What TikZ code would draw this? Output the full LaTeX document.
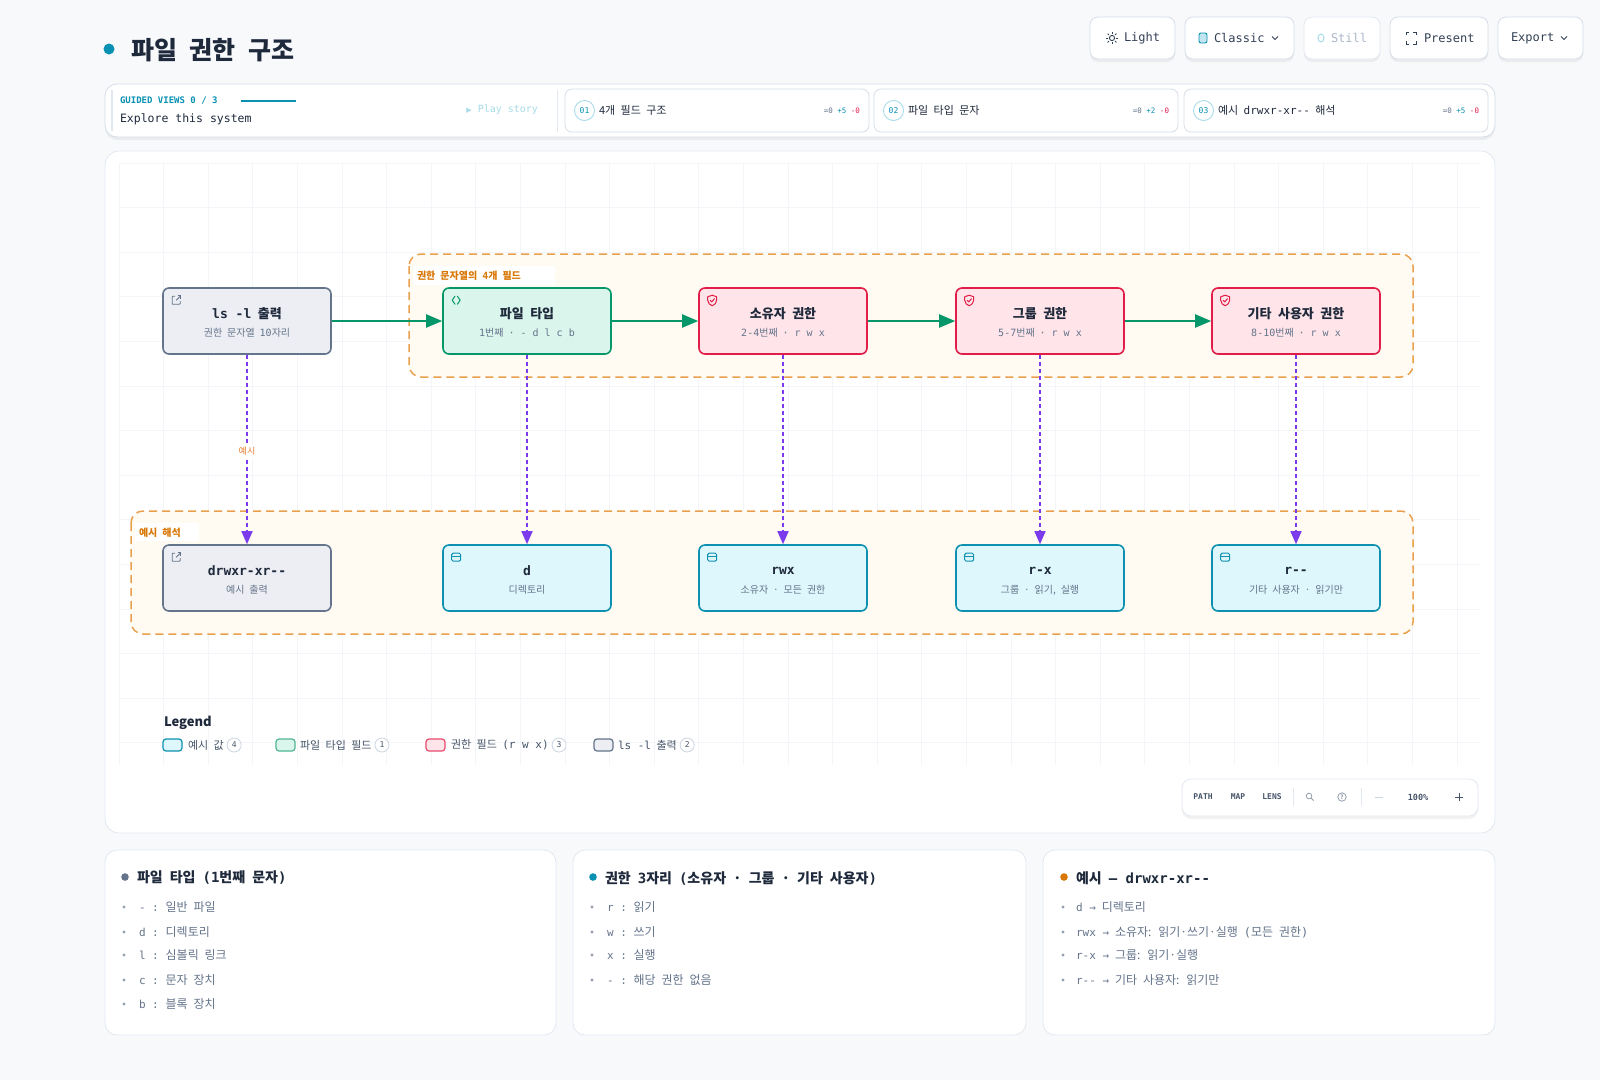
\documentclass[tikz,border=0pt]{standalone}
\usepackage{fontspec}
\setmainfont[WordSpace=2.2]{Noto Sans CJK KR}
\newfontfamily\mono{DejaVu Sans Mono}
\newfontfamily\djs{DejaVu Sans}
\usetikzlibrary{arrows.meta,calc}
\newcommand\mm[1]{{\mono #1}}
\newcommand\fsz[1]{\fontsize{#1}{#1}\selectfont}
\definecolor{pagebg}{HTML}{F8F9FB}
\definecolor{ink}{HTML}{1E293B}
\definecolor{ink2}{HTML}{334155}
\definecolor{muted}{HTML}{64748B}
\definecolor{muted2}{HTML}{475569}
\definecolor{line}{HTML}{E2E8F0}
\definecolor{line2}{HTML}{CBD5E1}
\definecolor{gridc}{HTML}{F3F5F8}
\definecolor{tealc}{HTML}{0891B2}
\definecolor{teall}{HTML}{A8DCE8}
\definecolor{slateB}{HTML}{64748B}
\definecolor{slateF}{HTML}{ECEEF3}
\definecolor{greenB}{HTML}{059669}
\definecolor{greenF}{HTML}{DAF5EB}
\definecolor{roseB}{HTML}{E11D48}
\definecolor{roseF}{HTML}{FFE4E9}
\definecolor{cyanB}{HTML}{0E91B0}
\definecolor{cyanF}{HTML}{DDF7FC}
\definecolor{purp}{HTML}{7C3AED}
\definecolor{orB}{HTML}{E9A04D}
\definecolor{orF}{HTML}{FFFBF2}
\definecolor{orT}{HTML}{D97706}
\definecolor{orL}{HTML}{EA7A2E}
\tikzset{
  txt/.style={inner sep=0pt, outer sep=0pt},
  shadowed/.style={preaction={fill=black, opacity=0.05, transform canvas={yshift=-3pt}}},
  card/.style={draw=line, fill=white, line width=0.8pt},
  btn/.style={draw=line2!80, fill=white, line width=0.8pt, rounded corners=8pt, shadowed},
  nbox/.style={draw, rounded corners=6pt, line width=1.6pt, minimum width=168pt, minimum height=66pt, inner sep=0pt},
  gnode/.style={nbox, draw=slateB, fill=slateF},
  fnode/.style={nbox, draw=greenB, fill=greenF},
  rnode/.style={nbox, draw=roseB, fill=roseF},
  cnode/.style={nbox, draw=cyanB, fill=cyanF},
  ttl/.style={txt, font=\fsz{13}\bfseries, text=ink},
  sub/.style={txt, font=\fsz{10}, text=muted},
  grp/.style={draw=orB, fill=orF, line width=1.5pt, dash pattern=on 8pt off 5pt, rounded corners=12pt},
  grplbl/.style={txt, font=\fsz{10}\bfseries, text=orT, anchor=west},
  garrow/.style={draw=greenB, line width=2pt, -{Triangle[length=16pt,width=13pt]}},
  parrow/.style={draw=purp, line width=1.5pt, dash pattern=on 4pt off 3pt, -{Triangle[length=13pt,width=11pt]}},
  legt/.style={txt, anchor=west, font=\fsz{11}, text=muted2},
  badge/.style={circle, draw=line2, fill=white, line width=0.8pt, minimum size=14pt, inner sep=0pt, font=\mono\fsz{8}, text=muted2, anchor=west},
  sw/.style={line width=1.2pt, rounded corners=3pt},
  itm/.style={txt, anchor=west, font=\fsz{12}, text=muted},
  hd/.style={txt, anchor=west, font=\fsz{14}\bfseries, text=ink},
  tb/.style={txt, font=\mono\bfseries\fsz{8}, text=muted2},
  extlink/.pic={\draw[line width=0.9pt, rounded corners=0.6pt] (-1,-4) -- (-4,-4) -- (-4,4) -- (4,4) -- (4,1);
    \draw[line width=0.9pt] (0,0) -- (4.5,-4.5);
    \draw[line width=0.9pt] (1.5,-4.5) -- (4.5,-4.5) -- (4.5,-1.5);},
  codeic/.pic={\draw[line width=1pt, line join=round, line cap=round] (-1.2,-4) -- (-4,0) -- (-1.2,4);
    \draw[line width=1pt, line join=round, line cap=round] (1.2,-4) -- (4,0) -- (1.2,4);},
  shieldic/.pic={\draw[line width=1pt, line join=round] (0,-5) -- (4.5,-3.4) -- (4.5,0) .. controls (4.5,3) and (2.2,4.6) .. (0,5.6) .. controls (-2.2,4.6) and (-4.5,3) .. (-4.5,0) -- (-4.5,-3.4) -- cycle;
    \draw[line width=1pt, line join=round, line cap=round] (-2,0.2) -- (-0.5,1.7) -- (2.2,-1.4);},
  winic/.pic={\draw[line width=1pt, rounded corners=1.5pt] (-4.5,-4) rectangle (4.5,4);
    \draw[line width=1pt] (-4.5,-0.8) -- (4.5,-0.8);},
}
\begin{document}
\begin{tikzpicture}[x=1pt, y=-1pt]
\useasboundingbox (0,0) rectangle (1600,1080);
\fill[pagebg] (0,0) rectangle (1600,1080);

% ---------- title ----------
\fill[tealc] (109,49) circle (5.5);
\node[txt, anchor=west, font=\fsz{25}\bfseries, text=ink] (title) at (131,50) {파일 권한 구조};

% ---------- buttons ----------
\draw[btn] (1090,17) rectangle (1175,59);
\draw[ink2, line width=0.9pt] (1112,38) circle (2.6);
\foreach \a in {0,45,...,315} \draw[ink2, line width=0.9pt] ($(1112,38)+(\a:4.4)$) -- ($(1112,38)+(\a:6.2)$);
\node[txt, anchor=west, font=\mono\fsz{12}, text=ink2] (bLight) at (1124,38) {Light};
\draw[btn] (1185,17) rectangle (1294,59);
\draw[tealc, fill=teall!70, line width=0.9pt, rounded corners=2pt] (1199,33) rectangle (1207,43);
\node[txt, anchor=west, font=\mono\fsz{12}, text=ink2] (bClassic) at (1214,38) {Classic};
\draw[ink2, line width=0.9pt] (1272,36.5) -- (1275,39.5) -- (1278,36.5);
\draw[btn, draw=line] (1304,17) rectangle (1380,59);
\draw[teall, line width=1pt] (1321,38) ellipse (3 and 4);
\node[txt, anchor=west, font=\mono\fsz{12}, text=line2!70!muted] (bStill) at (1331,38) {Still};
\draw[btn] (1390,17) rectangle (1488,59);
\draw[ink2, line width=1pt] (1406,35) -- (1406,32) -- (1409,32) (1413,32) -- (1416,32) -- (1416,35) (1416,41) -- (1416,44) -- (1413,44) (1409,44) -- (1406,44) -- (1406,41);
\node[txt, anchor=west, font=\mono\fsz{12}, text=ink2] (bPresent) at (1424,38) {Present};
\draw[btn] (1498,17) rectangle (1583,59);
\node[txt, anchor=west, font=\mono\fsz{12}, text=ink2] (bExport) at (1511,38) {Export};
\draw[ink2, line width=0.9pt] (1561,36.5) -- (1564,39.5) -- (1567,36.5);

% ---------- guided views bar ----------
\draw[card, rounded corners=12pt, shadowed, draw=line2!80] (105,84) rectangle (1495,137);
\draw[line, line width=1.2pt] (112,90) -- (112,131);
\node[txt, anchor=west, font=\mono\bfseries\fsz{9}, text=tealc] (gv) at (120,101) {GUIDED VIEWS 0 / 3};
\draw[tealc, line width=2pt] (241,101) -- (296,101);
\node[txt, anchor=west, font=\mono\fsz{11.5}, text=ink] (explore) at (120,119) {Explore this system};
\node[txt, anchor=east, font=\mono\fsz{10}, text=teall] (play) at (538,110) {{\djs\fsz{7}▶} Play story};
\draw[line, line width=1pt] (557,90) -- (557,132);
\foreach \L/\n/\t/\p in {565/01/{4개 필드 구조}/5, 874/02/{파일 타입 문자}/2, 1184/03/{예시 \mm{drwxr-xr--} 해석}/5}{
  \draw[card, draw=line2!80, rounded corners=7pt] (\L,89) rectangle ({\L+304},132);
  \node[circle, draw=teall, line width=0.9pt, minimum size=20pt, inner sep=0pt, font=\mono\fsz{8}, text=tealc] at ({\L+19.5},110.5) {\n};
  \node[txt, anchor=west, font=\fsz{11}, text=ink] at ({\L+34},110.5) {\t};
  \node[txt, anchor=east, font=\mono\fsz{7.5}] at ({\L+295},110.5) {\textcolor{muted}{=0} \textcolor{tealc}{+\p} \textcolor{roseB}{-0}};
}

% ---------- canvas ----------
\draw[card, rounded corners=14pt] (105,151) rectangle (1495,833);
\begin{scope}
\clip (119,163) rectangle (1480,765);
\foreach \i in {0,...,31} \draw[gridc, line width=0.8pt] ({119+44.6*\i},163) -- ({119+44.6*\i},765);
\foreach \j in {0,...,13} \draw[gridc, line width=0.8pt] (119,{163+44.6*\j}) -- (1480,{163+44.6*\j});
\end{scope}

% groups
\draw[grp] (409,254) rectangle (1413,377);
\fill[white] (413,266) rectangle (555,285);
\node[grplbl] (g1lbl) at (417,276) {권한 문자열의 \mm{4}개 필드};
\draw[grp] (131,511) rectangle (1413,634);
\fill[white] (135,523) rectangle (199,541);
\node[grplbl] (g2lbl) at (139,533) {예시 해석};

% top nodes
\node[gnode] (ls) at (247,321) {};
\node[fnode] (ft) at (527,321) {};
\node[rnode] (ow) at (783,321) {};
\node[rnode] (gr) at (1040,321) {};
\node[rnode] (ot) at (1296,321) {};
% bottom nodes
\node[gnode] (ex) at (247,578) {};
\node[cnode] (ed) at (527,578) {};
\node[cnode] (eo) at (783,578) {};
\node[cnode] (eg) at (1040,578) {};
\node[cnode] (et) at (1296,578) {};

% icons
\pic[color=slateB] at ([xshift=14pt,yshift=-13pt]ls.north west) {extlink};
\pic[color=greenB] at ([xshift=14pt,yshift=-13pt]ft.north west) {codeic};
\pic[color=roseB] at ([xshift=14pt,yshift=-13pt]ow.north west) {shieldic};
\pic[color=roseB] at ([xshift=14pt,yshift=-13pt]gr.north west) {shieldic};
\pic[color=roseB] at ([xshift=14pt,yshift=-13pt]ot.north west) {shieldic};
\pic[color=slateB] at ([xshift=14pt,yshift=-13pt]ex.north west) {extlink};
\pic[color=cyanB] at ([xshift=14pt,yshift=-13pt]ed.north west) {winic};
\pic[color=cyanB] at ([xshift=14pt,yshift=-13pt]eo.north west) {winic};
\pic[color=cyanB] at ([xshift=14pt,yshift=-13pt]eg.north west) {winic};
\pic[color=cyanB] at ([xshift=14pt,yshift=-13pt]et.north west) {winic};

% node texts
\node[ttl] (lsT) at ([yshift=7pt]ls.center) {\mm{ls -l} 출력};
\node[sub] (lsS) at ([yshift=-12pt]ls.center) {권한 문자열 \mm{10}자리};
\node[ttl] (ftT) at ([yshift=7pt]ft.center) {파일 타입};
\node[sub] (ftS) at ([yshift=-12pt]ft.center) {\mm{1}번째 \mm{· - d l c b}};
\node[ttl] (owT) at ([yshift=7pt]ow.center) {소유자 권한};
\node[sub] (owS) at ([yshift=-12pt]ow.center) {\mm{2-4}번째 \mm{· r w x}};
\node[ttl] (grT) at ([yshift=7pt]gr.center) {그룹 권한};
\node[sub] (grS) at ([yshift=-12pt]gr.center) {\mm{5-7}번째 \mm{· r w x}};
\node[ttl] (otT) at ([yshift=7pt]ot.center) {기타 사용자 권한};
\node[sub] (otS) at ([yshift=-12pt]ot.center) {\mm{8-10}번째 \mm{· r w x}};
\node[ttl] (exT) at ([yshift=7pt]ex.center) {\mm{drwxr-xr--}};
\node[sub] (exS) at ([yshift=-12pt]ex.center) {예시 출력};
\node[ttl] (edT) at ([yshift=7pt]ed.center) {\mm{d}};
\node[sub] (edS) at ([yshift=-12pt]ed.center) {디렉토리};
\node[ttl] (eoT) at ([yshift=7pt]eo.center) {\mm{rwx}};
\node[sub] (eoS) at ([yshift=-12pt]eo.center) {소유자 · 모든 권한};
\node[ttl] (egT) at ([yshift=7pt]eg.center) {\mm{r-x}};
\node[sub] (egS) at ([yshift=-12pt]eg.center) {그룹 · 읽기, 실행};
\node[ttl] (etT) at ([yshift=7pt]et.center) {\mm{r--}};
\node[sub] (etS) at ([yshift=-12pt]et.center) {기타 사용자 · 읽기만};

% connectors
\draw[garrow] (ls.east) -- (ft.west);
\draw[garrow] (ft.east) -- (ow.west);
\draw[garrow] (ow.east) -- (gr.west);
\draw[garrow] (gr.east) -- (ot.west);
\draw[parrow] (ls.south) -- node[pos=0.5, fill=white, inner sep=2pt, font=\fsz{9}, text=orL, yshift=-2pt] (lblEx) {예시} (ex.north);
\draw[parrow] (ft.south) -- (ed.north);
\draw[parrow] (ow.south) -- (eo.north);
\draw[parrow] (gr.south) -- (eg.north);
\draw[parrow] (ot.south) -- (et.north);

% legend
\node[txt, anchor=west, font=\fsz{13}\bfseries, text=ink] (leg) at (164,723) {Legend};
\draw[sw, draw=cyanB, fill=cyanF] (163,739) rectangle (182,751);
\node[legt] (l1) at (188,745) {예시 값};
\node[badge] (b1) at ([xshift=3pt]l1.east) {4};
\draw[sw, draw=greenB!70, fill=greenF] (276,739) rectangle (295,751);
\node[legt] (l2) at (300,745) {파일 타입 필드};
\node[badge] (b2) at ([xshift=3pt]l2.east) {1};
\draw[sw, draw=roseB!80, fill=roseF] (426,739) rectangle (445,751);
\node[legt] (l3) at (451,745) {권한 필드 \mm{(r w x)}};
\node[badge] (b3) at ([xshift=3pt]l3.east) {3};
\draw[sw, draw=slateB, fill=slateF] (594,739) rectangle (613,751);
\node[legt] (l4) at (618,745) {\mm{ls -l} 출력};
\node[badge] (b4) at ([xshift=3pt]l4.east) {2};

% toolbar
\draw[card, rounded corners=9pt, shadowed] (1182,779) rectangle (1478,816);
\node[tb] (tPath) at (1203,797) {PATH};
\node[tb] (tMap) at (1238,797) {MAP};
\node[tb] (tLens) at (1272,797) {LENS};
\draw[line, line width=1pt] (1293,788) -- (1293,806);
\draw[muted!70, line width=0.8pt] (1309,796) circle (2.8) (1311,798) -- (1313.5,800.5);
\draw[muted!70, line width=0.8pt] (1342,797) circle (4.2);
\node[txt, font=\fsz{6}\bfseries, text=muted!70] (tq) at (1342,797) {?};
\draw[line, line width=1pt] (1361,788) -- (1361,806);
\draw[line2, line width=0.9pt] (1375,797) -- (1383,797);
\node[txt, font=\mono\bfseries\fsz{8.5}, text=muted2] (tz) at (1418,797) {100\%};
\draw[muted2, line width=0.9pt] (1455,797) -- (1463,797) (1459,793) -- (1459,801);

% ---------- bottom panels ----------
\draw[card, rounded corners=12pt] (105,850) rectangle (556,1035);
\draw[card, rounded corners=12pt] (573,850) rectangle (1026,1035);
\draw[card, rounded corners=12pt] (1043,850) rectangle (1495,1035);

\fill[slateB] (125,877) circle (3.8);
\node[hd] (h1) at (137,878) {파일 타입 \mm{(1}번째 문자\mm{)}};
\fill[tealc] (593,877) circle (3.8);
\node[hd] (h2) at (605,878) {권한 \mm{3}자리 \mm{(}소유자 · 그룹 · 기타 사용자\mm{)}};
\fill[orT] (1064,877) circle (3.8);
\node[hd] (h3) at (1076,878) {예시 \mm{— drwxr-xr--}};

\foreach \y/\k/\v in {907/-/{일반 파일}, 932/d/{디렉토리}, 955/l/{심볼릭 링크}, 980/c/{문자 장치}, 1004/b/{블록 장치}}{
  \fill[muted!70] (124,\y) circle (1.6);
  \node[itm] at (139,\y) {\mm{\fsz{11}\k\ :} \v};
}
\foreach \y/\k/\v in {907/r/{읽기}, 932/w/{쓰기}, 955/x/{실행}, 980/-/{해당 권한 없음}}{
  \fill[muted!70] (592,\y) circle (1.6);
  \node[itm] at (607,\y) {\mm{\fsz{11}\k\ :} \v};
}
\foreach \y/\k/\v in {907/d/{디렉토리}, 932/rwx/{소유자: 읽기·쓰기·실행 \mm{(}모든 권한\mm{)}}, 955/r-x/{그룹: 읽기·실행}, 980/r--/{기타 사용자: 읽기만}}{
  \fill[muted!70] (1063,\y) circle (1.6);
  \node[itm] at (1076,\y) {\mm{\fsz{11}\k\ →} \v};
}
\end{tikzpicture}
\end{document}
